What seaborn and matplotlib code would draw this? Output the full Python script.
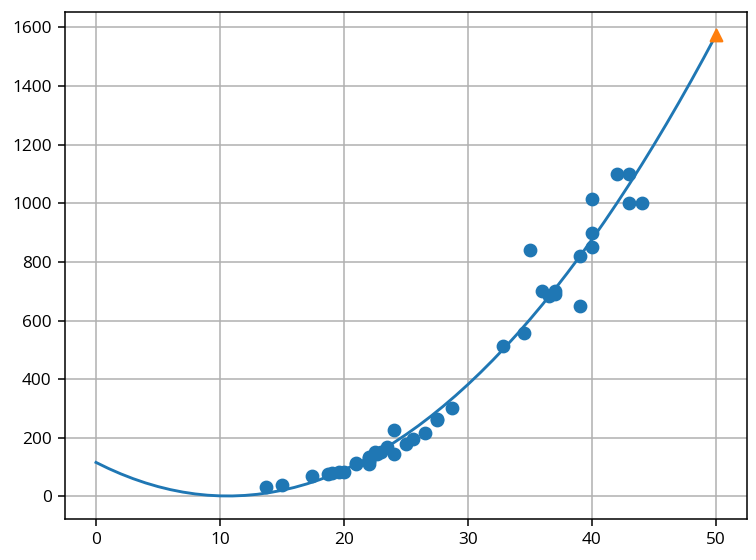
import numpy as np
import pandas as pd
import matplotlib
matplotlib.use("Agg")
import matplotlib.pyplot as plt
import seaborn as sns

# training data: length (cm) vs weight (g)
train_length = [13.7, 15.0, 17.4, 18.7, 19.0, 19.6, 20.0, 21.0, 21.0,
                22.0, 22.0, 22.0, 22.0, 22.0, 22.5, 22.7, 23.0, 23.5,
                24.0, 24.0, 25.0, 25.6, 26.5, 27.5, 27.5, 28.7, 32.8,
                34.5, 35.0, 36.5, 36.0, 37.0, 37.0, 39.0, 39.0, 40.0,
                40.0, 40.0, 42.0, 43.0, 43.0, 44.0]
train_weight = [32.0, 40.0, 70.0, 78.0, 80.0, 85.0, 85.0, 110.0, 115.0,
                120.0, 120.0, 130.0, 135.0, 110.0, 150.0, 145.0, 150.0, 170.0,
                225.0, 145.0, 180.0, 197.0, 218.0, 260.0, 265.0, 300.0, 514.0,
                556.0, 840.0, 685.0, 700.0, 700.0, 690.0, 650.0, 820.0, 850.0,
                900.0, 1015.0, 1100.0, 1000.0, 1100.0, 1000.0]

# fitted quadratic model: weight = a*len^2 + b*len + c
coef_a = 1.01433211
coef_b = -21.55792498
coef_c = 116.0502107827827

curve_x = np.arange(0, 51)
pred_length = [50]
pred_weight = [1573.98423528]

plt.rcParams['font.family'] = ['Open Sans', 'DejaVu Sans']
plt.rcParams['font.size'] = 9

fig = plt.figure(figsize=(756 / 138, 560 / 138), dpi=138)
ax = fig.add_axes([65 / 756, 41 / 560, 682 / 756, 507 / 560])

df = pd.DataFrame({"length": train_length, "weight": train_weight})
sns.scatterplot(data=df, x="length", y="weight", ax=ax, color="#1f77b4",
                s=36, linewidth=1.2, edgecolor="#1f77b4", zorder=2)

curve = pd.DataFrame({"x": curve_x,
                      "y": coef_a * curve_x ** 2 + coef_b * curve_x + coef_c})
sns.lineplot(data=curve, x="x", y="y", ax=ax, color="#1f77b4",
             linewidth=1.5, zorder=3)

sns.scatterplot(x=pred_length, y=pred_weight, ax=ax, color="#ff7f0e",
                marker="^", s=36, linewidth=1.2, edgecolor="#ff7f0e", zorder=4)

ax.set_xlabel("")
ax.set_ylabel("")
ax.set_xticks([0, 10, 20, 30, 40, 50])
ax.set_yticks([0, 200, 400, 600, 800, 1000, 1200, 1400, 1600])
ax.grid(True, color="#b0b0b0", linewidth=0.8)
ax.set_axisbelow(True)
for s in ax.spines.values():
    s.set_color("black")
    s.set_linewidth(0.8)

fig.savefig("out.png", dpi=138)
